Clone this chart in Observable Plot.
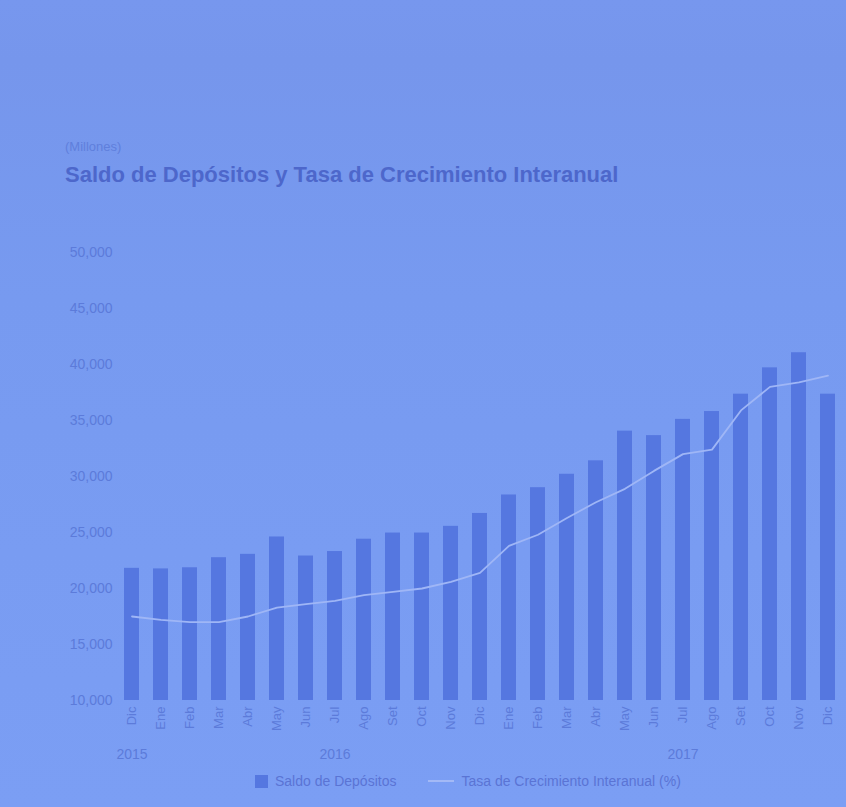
<!DOCTYPE html>
<html>
<head>
<meta charset="utf-8">
<script src="https://cdn.jsdelivr.net/npm/d3@7"></script>
<script src="https://cdn.jsdelivr.net/npm/@observablehq/plot@0.6"></script>
<style>
html, body { margin: 0; padding: 0; background: #789af0; overflow: hidden; width: 846px; height: 807px; }
#wrap { position: relative; width: 846px; height: 807px; overflow: hidden; font-family: "Liberation Sans", Arial, sans-serif;
  background: linear-gradient(180deg, #7797ee 0px, #7696ec 60px, #779af0 300px, #7b9ef4 807px); }
#sub { position: absolute; left: 65px; top: 139px; font-size: 13px; color: #5f7fdc; }
#title { position: absolute; left: 65px; top: 162px; font-size: 22px; font-weight: bold; color: #4d67cb; white-space: nowrap; }
#chart { position: absolute; left: 0; top: 225px; }
#chart svg { max-width: none !important; }
#legend { position: absolute; left: 255px; top: 773px; font-size: 14px; color: #5a74d4; display: flex; align-items: center; white-space: nowrap; }
.sw { display: inline-block; width: 13px; height: 13px; background: #5577e0; margin-right: 7px; }
.ln { display: inline-block; width: 26px; height: 2px; background: #a3b9f6; margin: 0 7px 0 32px; }
</style>
</head>
<body>
<div id="wrap">
  <div id="sub">(Millones)</div>
  <div id="title">Saldo de Depósitos y Tasa de Crecimiento Interanual</div>
  <div id="chart"></div>
  <div id="legend"><span class="sw"></span>Saldo de Depósitos<span class="ln"></span>Tasa de Crecimiento Interanual (%)</div>
</div>
<script>
// ---- data ----
const meses = ["Dic","Ene","Feb","Mar","Abr","May","Jun","Jul","Ago","Set","Oct","Nov","Dic",
               "Ene","Feb","Mar","Abr","May","Jun","Jul","Ago","Set","Oct","Nov","Dic"];
const saldo = [21800, 21750, 21850, 22750, 23050, 24600, 22900, 23300, 24400, 24950, 24950, 25550, 26700,
               28350, 29000, 30200, 31400, 34050, 33650, 35100, 35800, 37350, 39700, 41050, 37350];
const tasa  = [7.5, 7.2, 7.0, 7.0, 7.5, 8.3, 8.6, 8.9, 9.4, 9.7, 10.0, 10.6, 11.4,
               13.8, 14.8, 16.3, 17.7, 18.9, 20.5, 22.0, 22.4, 25.9, 28.0, 28.4, 29.0];
const yTicks = [10000, 15000, 20000, 25000, 30000, 35000, 40000, 45000, 50000];
const years = ["2015", "2016", "2017"];
const yearAt = [0, 7, 19]; // index of the month under which each year label sits

const base = yTicks[0];
const rateToY = r => base + r * 1000; // growth rate (%) drawn on a secondary scale
const idx = meses.map((_, i) => i);
const rows = idx.map(i => ({i, mes: meses[i], saldo: saldo[i], tasa: tasa[i]}));
const yearRows = years.map((y, k) => ({label: y, i: yearAt[k]}));

const chart = Plot.plot({
  width: 846,
  height: 545,
  marginLeft: 120,
  marginRight: 6,
  marginTop: 27,
  marginBottom: 70,
  style: {background: "transparent", fontFamily: "Liberation Sans, Arial, sans-serif", color: "#5c7bda", maxWidth: "none"},
  x: {type: "band", domain: idx, paddingInner: 0.47, paddingOuter: 0.1},
  y: {domain: [yTicks[0], yTicks[yTicks.length - 1]]},
  marks: [
    Plot.barY(rows, {x: "i", y1: base, y2: "saldo", fill: "#5577e0"}),
    Plot.line(rows, {x: "i", y: d => rateToY(d.tasa), stroke: "#9fb6f6", strokeWidth: 1.8}),
    Plot.axisY({ticks: yTicks, tickFormat: d3.format(","), tickSize: 0, tickPadding: 8, fontSize: 14, label: null}),
    Plot.axisX({tickFormat: i => meses[i], tickRotate: -90, tickSize: 0, tickPadding: 6, fontSize: 13, label: null}),
    Plot.text(yearRows, {x: "i", text: "label", frameAnchor: "bottom", dy: 58, fontSize: 14, fill: "#5c7bda"})
  ]
});
document.getElementById("chart").appendChild(chart);
</script>
</body>
</html>
